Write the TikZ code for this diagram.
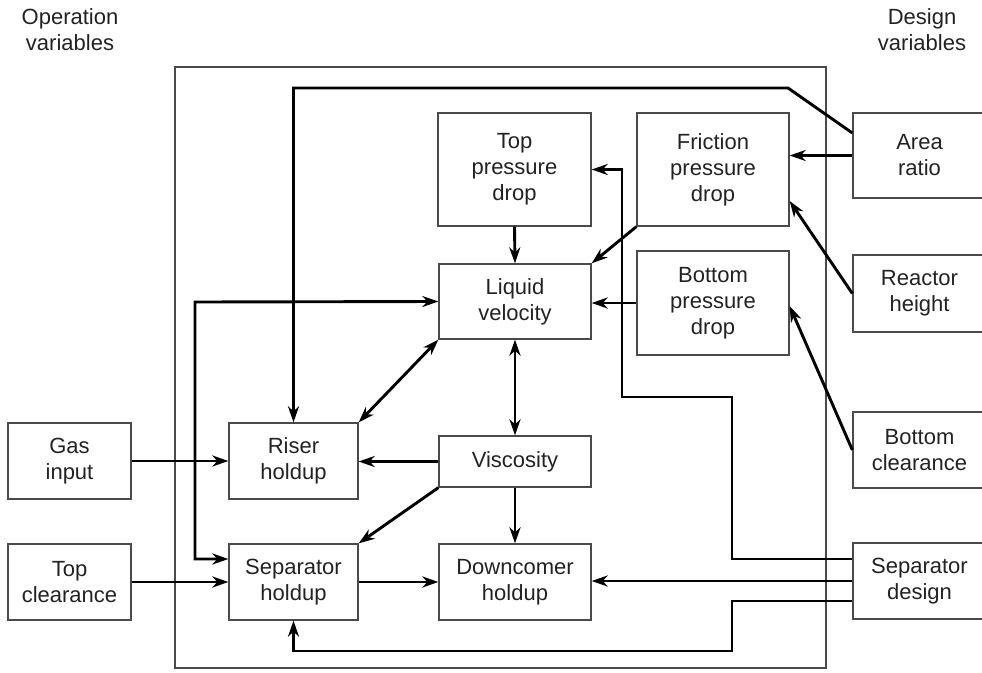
\documentclass[tikz,border=0pt]{standalone}
\usepackage{fontspec}
\setmainfont{Liberation Sans}
\usetikzlibrary{arrows.meta,calc}
\definecolor{boxgray}{HTML}{4A4A4A}
\definecolor{txt}{HTML}{222222}
\begin{document}
\begin{tikzpicture}[x=1pt,y=-1pt,
  every node/.style={font=\fontsize{22}{26}\selectfont, text=txt, inner sep=0pt, align=center},
  blk/.style={draw=boxgray, line width=1.3pt},
  arr/.style={line width=2.9pt, black, -{Stealth[length=16pt,width=11pt,inset=5pt]}},
  darr/.style={line width=2.9pt, black, {Stealth[length=16pt,width=11pt,inset=5pt]}-{Stealth[length=16pt,width=11pt,inset=5pt]}},
  lbl/.style={}]
\useasboundingbox (0,0) rectangle (982,672);
% frame
\draw[boxgray, line width=1.3pt] (175,67) rectangle (826,668);
% titles
\node[lbl] (opv) at (70,30) {Operation\\variables};
\node[lbl] (dsv) at (922,30) {Design\\variables};
% boxes
\node[blk, minimum width=123pt, minimum height=76pt] (gas) at (69.5,461) {Gas\\input};
\node[blk, minimum width=123pt, minimum height=76pt] (topc) at (69.5,582) {Top\\clearance};
\node[blk, minimum width=129pt, minimum height=76pt] (riser) at (293.5,461) {Riser\\holdup};
\node[blk, minimum width=129pt, minimum height=76pt] (seph) at (293.5,582) {Separator\\holdup};
\node[blk, minimum width=153pt, minimum height=113pt] (toppd) at (514.5,169.5) {Top\\pressure\\drop};
\node[blk, minimum width=152pt, minimum height=113pt] (fric) at (713,169.5) {Friction\\pressure\\drop};
\node[blk, minimum width=152pt, minimum height=75pt] (lv) at (515,301.5) {Liquid\\velocity};
\node[blk, minimum width=152pt, minimum height=104pt] (botpd) at (713,303) {Bottom\\pressure\\drop};
\node[blk, minimum width=152pt, minimum height=51pt] (visc) at (515,461.5) {Viscosity};
\node[blk, minimum width=152pt, minimum height=76pt] (down) at (515,582) {Downcomer\\holdup};
\node[blk, minimum width=133pt, minimum height=85pt] (area) at (919.5,155.5) {Area\\ratio};
\node[blk, minimum width=133pt, minimum height=77pt] (reactor) at (919.5,293.5) {Reactor\\height};
\node[blk, minimum width=133pt, minimum height=76pt] (botc) at (919.5,450) {Bottom\\clearance};
\node[blk, minimum width=133pt, minimum height=76pt] (sepd) at (919.5,581) {Separator\\design};
% connectors
\coordinate (a1) at (788,88);
\draw[arr] ([yshift=22.5pt]area.west) -- (a1) -| (riser.north);
\draw[arr] (area.west) -- (area.west -| fric.east);
\draw[arr] (reactor.west) -- ([yshift=-31.5pt]fric.east);
\draw[arr] (botc.west) -- ([yshift=-3pt]botpd.east);
\draw[arr] (botpd.west) -- (botpd.west -| lv.east);
\draw[arr] (fric.south west) -- (lv.north east);
\draw[arr] (toppd.south) -- (lv.north);
\coordinate (s1) at (732,559);
\coordinate (s2) at (732,397);
\coordinate (s3) at (622,397);
\draw[arr] ([yshift=22pt]sepd.west) -- (s1) -- (s2) -- (s3) |- (toppd.east);
\draw[arr] (sepd.west) -- (sepd.west -| down.east);
\coordinate (b1) at (732,601);
\coordinate (b2) at (732,651);
\draw[arr] ([yshift=-20pt]sepd.west) -- (b1) -- (b2) -| (seph.south);
\draw[darr] (lv.south) -- (visc.north);
\draw[darr] (lv.south west) -- (riser.north east);
\coordinate (l1) at (195,302);
\draw[darr] (lv.west) -- (l1) |- ([yshift=23pt]seph.west);
\draw[arr] (gas.east) -- (riser.west);
\draw[arr] (topc.east) -- (seph.west);
\draw[arr] (visc.west) -- (visc.west -| riser.east);
\draw[arr] (visc.south west) -- (seph.north east);
\draw[arr] (visc.south) -- (down.north);
\draw[arr] (seph.east) -- (down.west);
\end{tikzpicture}
\end{document}
